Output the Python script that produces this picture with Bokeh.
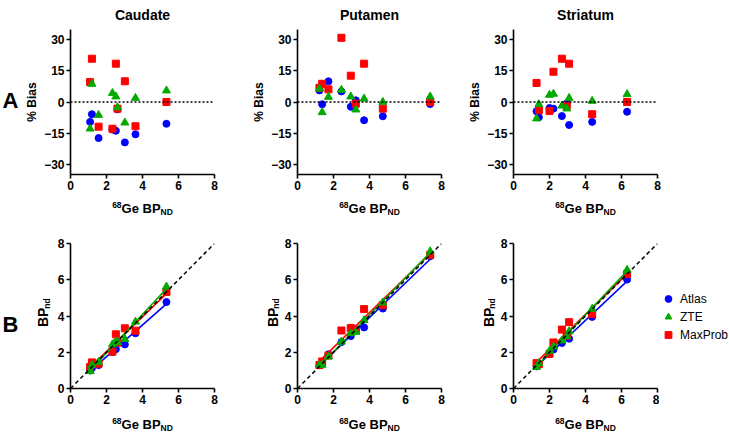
import numpy as np
from bokeh.plotting import figure
from bokeh.layouts import row, column
from bokeh.models import Range1d, FixedTicker, Span, Slope, Legend, LegendItem
from bokeh.core.properties import value
from bokeh.embed import file_html
from bokeh.resources import INLINE

# ---------------- data ----------------
regions = ["Caudate", "Putamen", "Striatum"]
methods = ["Atlas", "ZTE", "MaxProb"]
x_ticks = [0, 2, 4, 6, 8]
bias_ticks = [-30, -15, 0, 15, 30]
bp_ticks = [0, 2, 4, 6, 8]

caudate_ge = [1.09, 1.19, 1.56, 2.33, 2.52, 2.61, 3.02, 3.61, 5.33]
caudate_bias_atlas = [-9.6, -5.9, -17.4, -13.3, -13.9, -3.5, -19.5, -15.6, -10.5]
caudate_bias_zte = [-12.9, 8.7, -6.3, 4.3, 2.6, -2.6, -10.0, 1.9, 5.5]
caudate_bias_maxprob = [9.6, 20.9, -11.9, -12.9, 18.5, -3.2, 10.0, -11.7, 0.0]
caudate_bp_atlas = [0.99, 1.12, 1.29, 2.02, 2.17, 2.52, 2.43, 3.05, 4.77]
caudate_bp_zte = [0.95, 1.29, 1.46, 2.43, 2.59, 2.54, 2.72, 3.68, 5.62]
caudate_bp_maxprob = [1.19, 1.44, 1.37, 2.03, 2.99, 2.53, 3.32, 3.19, 5.33]

putamen_ge = [1.22, 1.37, 1.72, 2.44, 2.96, 3.24, 3.70, 4.74, 7.37]
putamen_bias_atlas = [5.6, -1.1, 10.0, 5.1, -2.3, 0.8, -8.8, -6.9, -1.0]
putamen_bias_zte = [6.4, -5.0, 2.4, 5.8, 2.6, -3.7, 1.6, 0.0, 2.6]
putamen_bias_maxprob = [6.8, 8.8, 6.1, 31.0, 12.7, -0.8, 18.5, -3.2, 0.0]
putamen_bp_atlas = [1.29, 1.35, 1.89, 2.56, 2.89, 3.27, 3.37, 4.41, 7.30]
putamen_bp_zte = [1.30, 1.30, 1.76, 2.58, 3.04, 3.12, 3.76, 4.74, 7.56]
putamen_bp_maxprob = [1.30, 1.49, 1.82, 3.20, 3.34, 3.21, 4.38, 4.59, 7.37]

striatum_ge = [1.28, 1.41, 2.00, 2.22, 2.69, 2.96, 3.09, 4.37, 6.31]
striatum_bias_atlas = [-4.5, -7.4, -2.9, -3.2, -6.8, -0.6, -11.1, -9.6, -4.7]
striatum_bias_zte = [-8.0, -1.1, 3.4, 3.9, -1.8, -3.2, 1.9, 0.5, 3.7]
striatum_bias_maxprob = [9.2, -4.0, -4.3, 14.6, 20.9, -1.8, 18.5, -5.9, 0.0]
striatum_bp_atlas = [1.22, 1.31, 1.94, 2.15, 2.51, 2.94, 2.75, 3.95, 6.01]
striatum_bp_zte = [1.18, 1.39, 2.07, 2.31, 2.64, 2.87, 3.15, 4.39, 6.54]
striatum_bp_maxprob = [1.40, 1.35, 1.91, 2.54, 3.25, 2.91, 3.66, 4.11, 6.31]

ge = {"Caudate": caudate_ge, "Putamen": putamen_ge, "Striatum": striatum_ge}
bias = {
    "Caudate": [caudate_bias_atlas, caudate_bias_zte, caudate_bias_maxprob],
    "Putamen": [putamen_bias_atlas, putamen_bias_zte, putamen_bias_maxprob],
    "Striatum": [striatum_bias_atlas, striatum_bias_zte, striatum_bias_maxprob],
}
bp = {
    "Caudate": [caudate_bp_atlas, caudate_bp_zte, caudate_bp_maxprob],
    "Putamen": [putamen_bp_atlas, putamen_bp_zte, putamen_bp_maxprob],
    "Striatum": [striatum_bp_atlas, striatum_bp_zte, striatum_bp_maxprob],
}

# ---------------- style / layout ----------------
COLORS = ["#0000FF", "#00AA00", "#FF0000"]
MARKERS = ["circle", "triangle", "square"]
SIZES = [7, 8, 7]
DRAW_ORDER = [0, 2, 1]
FONT = "Liberation Sans"
FW, FH = 144, 145
TOTAL_W = 729
FRAME_X = [70, 297, 513]             # frame left edges (px)
STRIP_A_W = 22
TOP_LEFT = [48, 59, 51]
TOP_RIGHT = [24, 21, 72]
BOT_STRIPS = [54, 43, 32]
BOT_LEFT = [16, 16, 16]
BOT_RIGHT = [24, 24, 2]
BP_MID = [27.2, 25, 25]              # distance of the BP label centre left of the axis
LEG_W = 70
TITLE_H, TOP_T, TOP_B, XL1_H, BOT_T, BOT_B, XL2_H = 22, 7, 21, 22, 26, 20, 24


def style(p, yticks):
    p.outline_line_color = None
    p.xgrid.visible = False
    p.ygrid.visible = False
    p.background_fill_color = "white"
    p.border_fill_color = "white"
    for ax in (p.xaxis[0], p.yaxis[0]):
        ax.axis_line_width = 1.6
        ax.axis_line_color = "black"
        ax.major_tick_line_width = 1.6
        ax.major_tick_line_color = "black"
        ax.major_tick_in = 0
        ax.major_tick_out = 4
        ax.minor_tick_line_color = None
        ax.major_label_standoff = 2
        ax.major_label_text_font = FONT
        ax.major_label_text_font_style = "bold"
        ax.major_label_text_font_size = "12px"
        ax.major_label_text_color = "black"
    p.xaxis.ticker = FixedTicker(ticks=x_ticks)
    p.yaxis.ticker = FixedTicker(ticks=yticks)


def strip(w, h):
    s = figure(width=w, height=h, x_range=Range1d(0, w), y_range=Range1d(0, h),
               output_backend="svg", toolbar_location=None, title=None,
               x_axis_location=None, y_axis_location=None, min_border=0)
    s.outline_line_color = None
    s.xgrid.visible = False
    s.ygrid.visible = False
    s.background_fill_color = "white"
    s.border_fill_color = "white"
    return s


def put(s, h, x, y_top, text, size, angle=0.0, align="left", baseline="alphabetic", bold=True):
    s.text(x=[x], y=[h - y_top], text=[text], angle=angle,
           text_align=align, text_baseline=baseline,
           text_font=value(FONT), text_font_size=value(f"{size}px"),
           text_font_style="bold" if bold else "normal", text_color="black")


def put_xlabel(s, h, cx, base):
    w68, wge, wnd = 8.5 * 1.112, 13 * 3.001, 8.5 * 1.444
    x0 = cx - (w68 + wge + wnd) / 2
    put(s, h, x0, base - 4, "68", 8.5)
    put(s, h, x0 + w68, base, "Ge BP", 13)
    put(s, h, x0 + w68 + wge, base + 3, "ND", 8.5)


centers = [fx + FW / 2 for fx in FRAME_X]
top_h = TOP_T + FH + TOP_B
bot_h = BOT_T + FH + BOT_B

title_strip = strip(TOTAL_W, TITLE_H)
for reg, cx in zip(regions, centers):
    put(title_strip, TITLE_H, cx, 14, reg, 14, align="center")

xl1 = strip(TOTAL_W, XL1_H)
xl2 = strip(TOTAL_W, XL2_H)
for cx in centers:
    put_xlabel(xl1, XL1_H, cx, 13)
    put_xlabel(xl2, XL2_H, cx, 16)

strip_a = strip(STRIP_A_W, top_h)
put(strip_a, top_h, 2, 85, "A", 22)

top_row = [strip_a]
bot_row = []
for i, reg in enumerate(regions):
    xs = ge[reg]

    # ---- A: bias panels ----
    p = figure(width=TOP_LEFT[i] + FW + TOP_RIGHT[i], height=top_h,
               x_range=Range1d(0, 8), y_range=Range1d(-35, 35),
               output_backend="svg", toolbar_location=None, title=None,
               min_border_left=TOP_LEFT[i], min_border_right=TOP_RIGHT[i],
               min_border_top=TOP_T, min_border_bottom=TOP_B)
    style(p, bias_ticks)
    p.yaxis.axis_label = "% Bias"
    p.yaxis.axis_label_text_font = FONT
    p.yaxis.axis_label_text_font_style = "bold"
    p.yaxis.axis_label_text_font_size = "12px"
    p.yaxis.axis_label_text_color = "black"
    p.yaxis.axis_label_standoff = 2
    p.add_layout(Span(location=0, dimension="width", line_color="black",
                      line_width=1.5, line_dash="2 2"))
    for m in DRAW_ORDER:
        p.scatter(xs, bias[reg][m], marker=MARKERS[m], size=SIZES[m],
                  fill_color=COLORS[m], line_color=COLORS[m])
    top_row.append(p)

    # ---- B: BPnd panels ----
    sw = BOT_STRIPS[i]
    st = strip(sw, bot_h)
    bx = sw + BOT_LEFT[i] - BP_MID[i]
    put(st, bot_h, bx, 110, "BP", 14, angle=np.pi / 2, baseline="middle")
    put(st, bot_h, bx + 3.5, 110 - 24, "nd", 8.5, angle=np.pi / 2, baseline="middle")
    if i == 0:
        put(st, bot_h, 2, 107, "B", 22)
    bot_row.append(st)

    q = figure(width=BOT_LEFT[i] + FW + BOT_RIGHT[i], height=bot_h,
               x_range=Range1d(0, 8), y_range=Range1d(0, 8),
               output_backend="svg", toolbar_location=None, title=None,
               min_border_left=BOT_LEFT[i], min_border_right=BOT_RIGHT[i],
               min_border_top=BOT_T, min_border_bottom=BOT_B)
    style(q, bp_ticks)
    for m in DRAW_ORDER:
        ys = bp[reg][m]
        k, c = np.polyfit(xs, ys, 1)
        x0, x1 = min(xs), max(xs)
        q.line([x0, x1], [k * x0 + c, k * x1 + c], line_color=COLORS[m], line_width=1.6)
        q.scatter(xs, ys, marker=MARKERS[m], size=SIZES[m],
                  fill_color=COLORS[m], line_color=COLORS[m])
    q.add_layout(Slope(gradient=1, y_intercept=0, line_color="black",
                       line_width=1.5, line_dash="4 3"))
    bot_row.append(q)

# legend strip (hidden renderers carry the marker styles for the legend glyphs)
leg = strip(LEG_W, bot_h)
items = []
for m in range(3):
    r = leg.scatter(x=striatum_ge, y=bp["Striatum"][m], marker=MARKERS[m], size=SIZES[m],
                    fill_color=COLORS[m], line_color=COLORS[m], visible=False)
    items.append(LegendItem(label=methods[m], renderers=[r]))
legend = Legend(items=items, location=(0, 45), orientation="vertical",
                glyph_width=18, glyph_height=17, label_standoff=3,
                label_height=17, spacing=1, padding=0, margin=0,
                border_line_color=None, background_fill_alpha=0,
                inactive_fill_alpha=0,
                label_text_font=FONT, label_text_font_size="12px",
                label_text_color="black")
leg.add_layout(legend)
bot_row.append(leg)

layout = column(title_strip, row(*top_row), xl1, row(*bot_row), xl2)
open("out.html", "w").write(file_html(layout, INLINE))
